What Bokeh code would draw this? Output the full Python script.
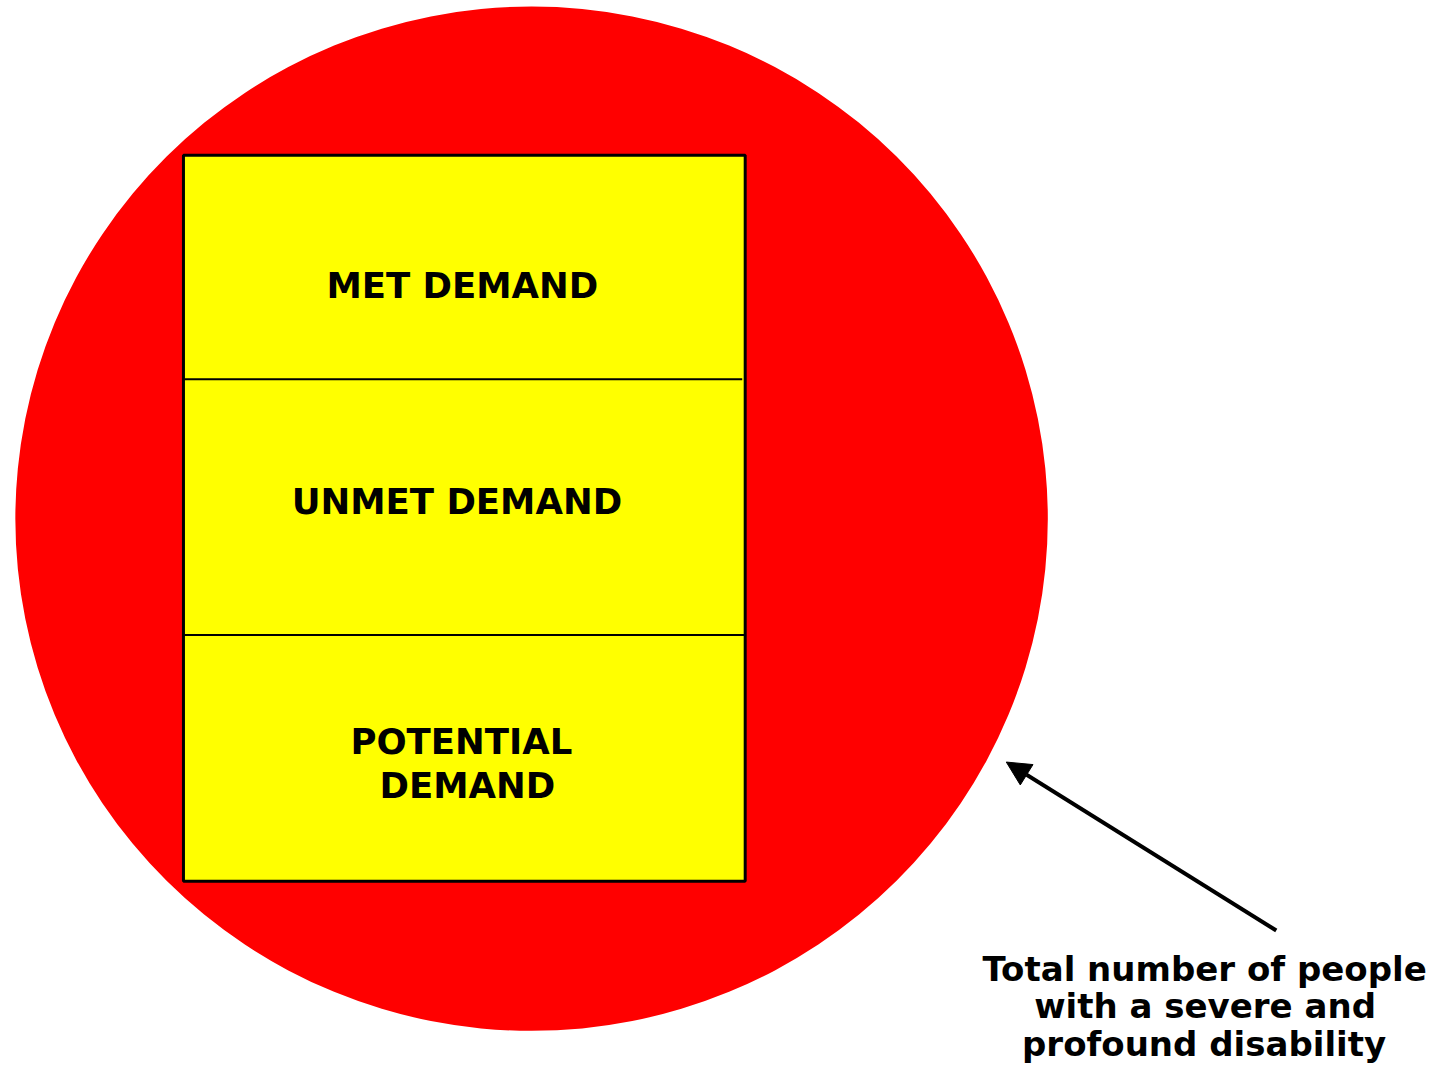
from bokeh.plotting import figure
from bokeh.models import Range1d, Arrow, NormalHead
from bokeh.core.properties import value
from bokeh.embed import file_html
from bokeh.resources import INLINE

# ---- content ----
box_labels = ["MET DEMAND", "UNMET DEMAND", "POTENTIAL", "DEMAND"]
outer_label = ["Total number of people", "with a severe and", "profound disability"]

# ---- layout (reference-image pixel coordinates) ----
W, H = 1435, 1065
p = figure(width=W, height=H, output_backend="svg", toolbar_location=None,
           x_range=Range1d(0, 1451), y_range=Range1d(1081, 0),
           min_border=0, border_fill_color="white", background_fill_color="white")
p.axis.visible = False
p.grid.visible = False
p.outline_line_color = None

# big red circle
p.ellipse(x=[537], y=[526], width=[1044], height=[1040],
          fill_color="#FF0000", line_color=None)

# yellow box
p.quad(left=[185], right=[753], top=[157], bottom=[894],
       fill_color="#FFFF00", line_color="black", line_width=3)
p.segment(x0=[186, 186], y0=[384.5, 644], x1=[750, 752], y1=[384.5, 644],
          line_color="black", line_width=2)

font = value("DejaVu Sans")
p.text(x=[467, 461.5, 466, 472], y=[289, 509, 752, 797], text=box_labels,
       text_font=font, text_font_style="bold", text_font_size="35.5px",
       text_align="center", text_baseline="alphabetic", text_color="black")

p.text(x=[1217.5, 1218, 1217], y=[983, 1021, 1059], text=outer_label,
       text_font=font, text_font_style="bold", text_font_size="34px",
       text_align="center", text_baseline="alphabetic", text_color="black")

p.add_layout(Arrow(end=NormalHead(size=24, fill_color="black", line_color="black"),
                   x_start=1290, y_start=944, x_end=1017, y_end=773,
                   line_color="black", line_width=4))

open("out.html", "w").write(file_html(p, INLINE))
